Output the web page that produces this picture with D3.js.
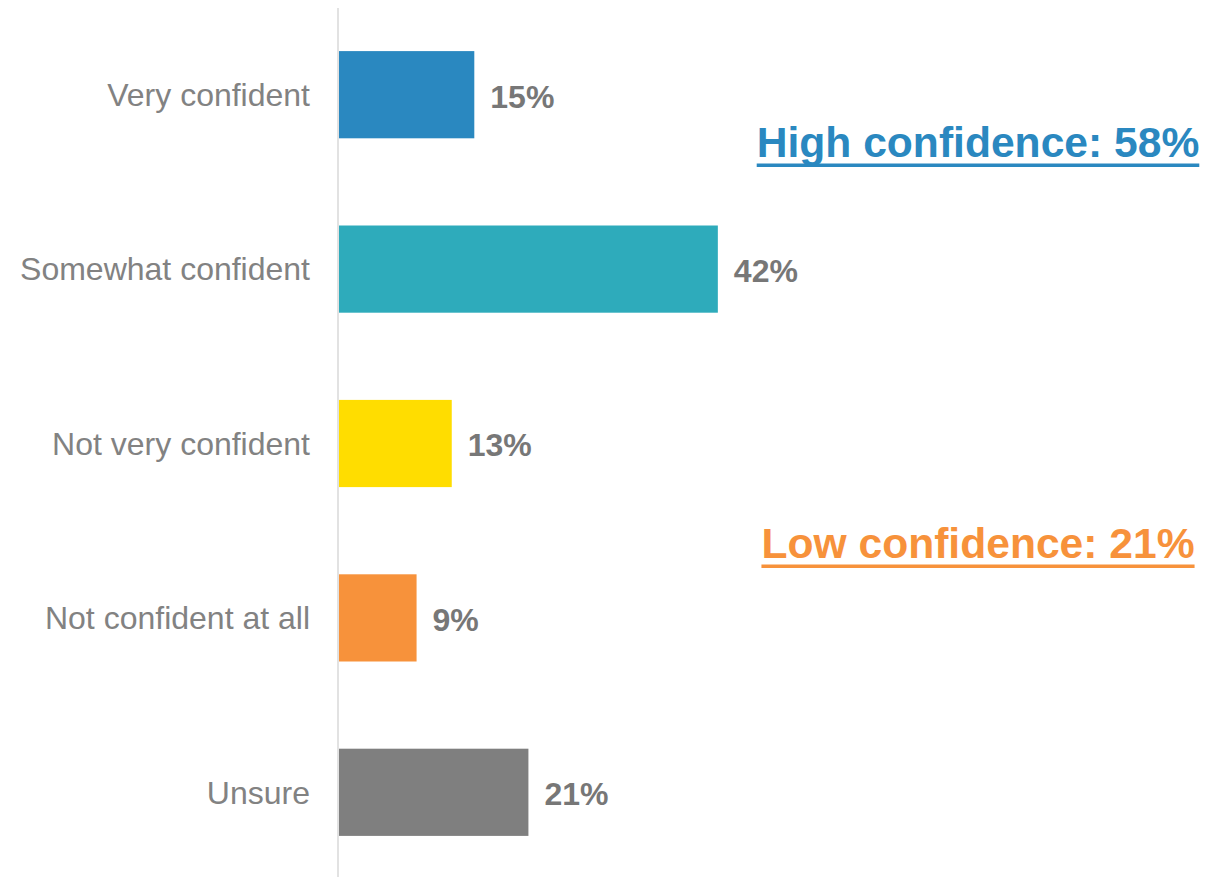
<!DOCTYPE html>
<html>
<head>
<meta charset="utf-8">
<script src="https://cdn.jsdelivr.net/npm/d3@7"></script>
<style>
  html, body { margin: 0; padding: 0; background: #ffffff; }
  svg { display: block; font-family: "Liberation Sans", Arial, sans-serif; }
</style>
</head>
<body>
<svg id="chart" width="1224" height="877"></svg>
<script>
const categories = ["Very confident", "Somewhat confident", "Not very confident", "Not confident at all", "Unsure"];
const values = [15, 42, 12.5, 8.6, 21];
const valueLabels = ["15%", "42%", "13%", "9%", "21%"];
const barColors = ["#2a88c0", "#2eabbb", "#ffdd00", "#f7923b", "#7f7f7f"];
const summaryLabels = ["High confidence: 58%", "Low confidence: 21%"];
const summaryColors = ["#2a88c0", "#f7923b"];

const svg = d3.select("#chart");
const W = 1224, H = 877;

const y = d3.scaleBand()
  .domain(categories)
  .range([7.5, 879.5])
  .paddingInner(0.5)
  .paddingOuter(0.25);

const x = d3.scaleLinear()
  .domain([0, 50])
  .range([339, 339 + 451]);

// bars
svg.append("g").selectAll("rect")
  .data(categories)
  .join("rect")
  .attr("x", x(0))
  .attr("y", d => y(d))
  .attr("width", (d, i) => x(values[i]) - x(0))
  .attr("height", y.bandwidth())
  .attr("fill", (d, i) => barColors[i]);

// vertical axis line
svg.append("line")
  .attr("x1", 338).attr("x2", 338)
  .attr("y1", 8).attr("y2", H)
  .attr("stroke", "#d9d9d9")
  .attr("stroke-width", 1.5);

// category labels via axis
const yAxis = d3.axisLeft(y).tickSize(0).tickPadding(0);
const ag = svg.append("g").attr("transform", "translate(310,0)").call(yAxis);
ag.select(".domain").remove();
ag.selectAll("text")
  .attr("fill", "#828282")
  .attr("font-size", 32)
  .attr("font-family", "'Liberation Sans', Arial, sans-serif")
  .attr("dy", "0.35em");

// value labels
svg.append("g").selectAll("text")
  .data(categories)
  .join("text")
  .attr("x", (d, i) => x(values[i]) + 16)
  .attr("y", d => y(d) + y.bandwidth() / 2)
  .attr("dy", "0.4em")
  .attr("font-size", 32)
  .attr("font-weight", "bold")
  .attr("fill", "#777777")
  .text((d, i) => valueLabels[i]);

// summary annotations
const sumY = [157, 558];
const sg = svg.append("g");
summaryLabels.forEach((t, i) => {
  const txt = sg.append("text")
    .attr("x", 978)
    .attr("y", sumY[i])
    .attr("text-anchor", "middle")
    .attr("font-size", 42.6)
    .attr("font-weight", "bold")
    .attr("fill", summaryColors[i])
    .text(t);
  const bb = txt.node().getBBox();
  sg.append("rect")
    .attr("x", bb.x)
    .attr("y", sumY[i] + 6.5)
    .attr("width", bb.width)
    .attr("height", 3.5)
    .attr("fill", summaryColors[i]);
});
</script>
</body>
</html>
